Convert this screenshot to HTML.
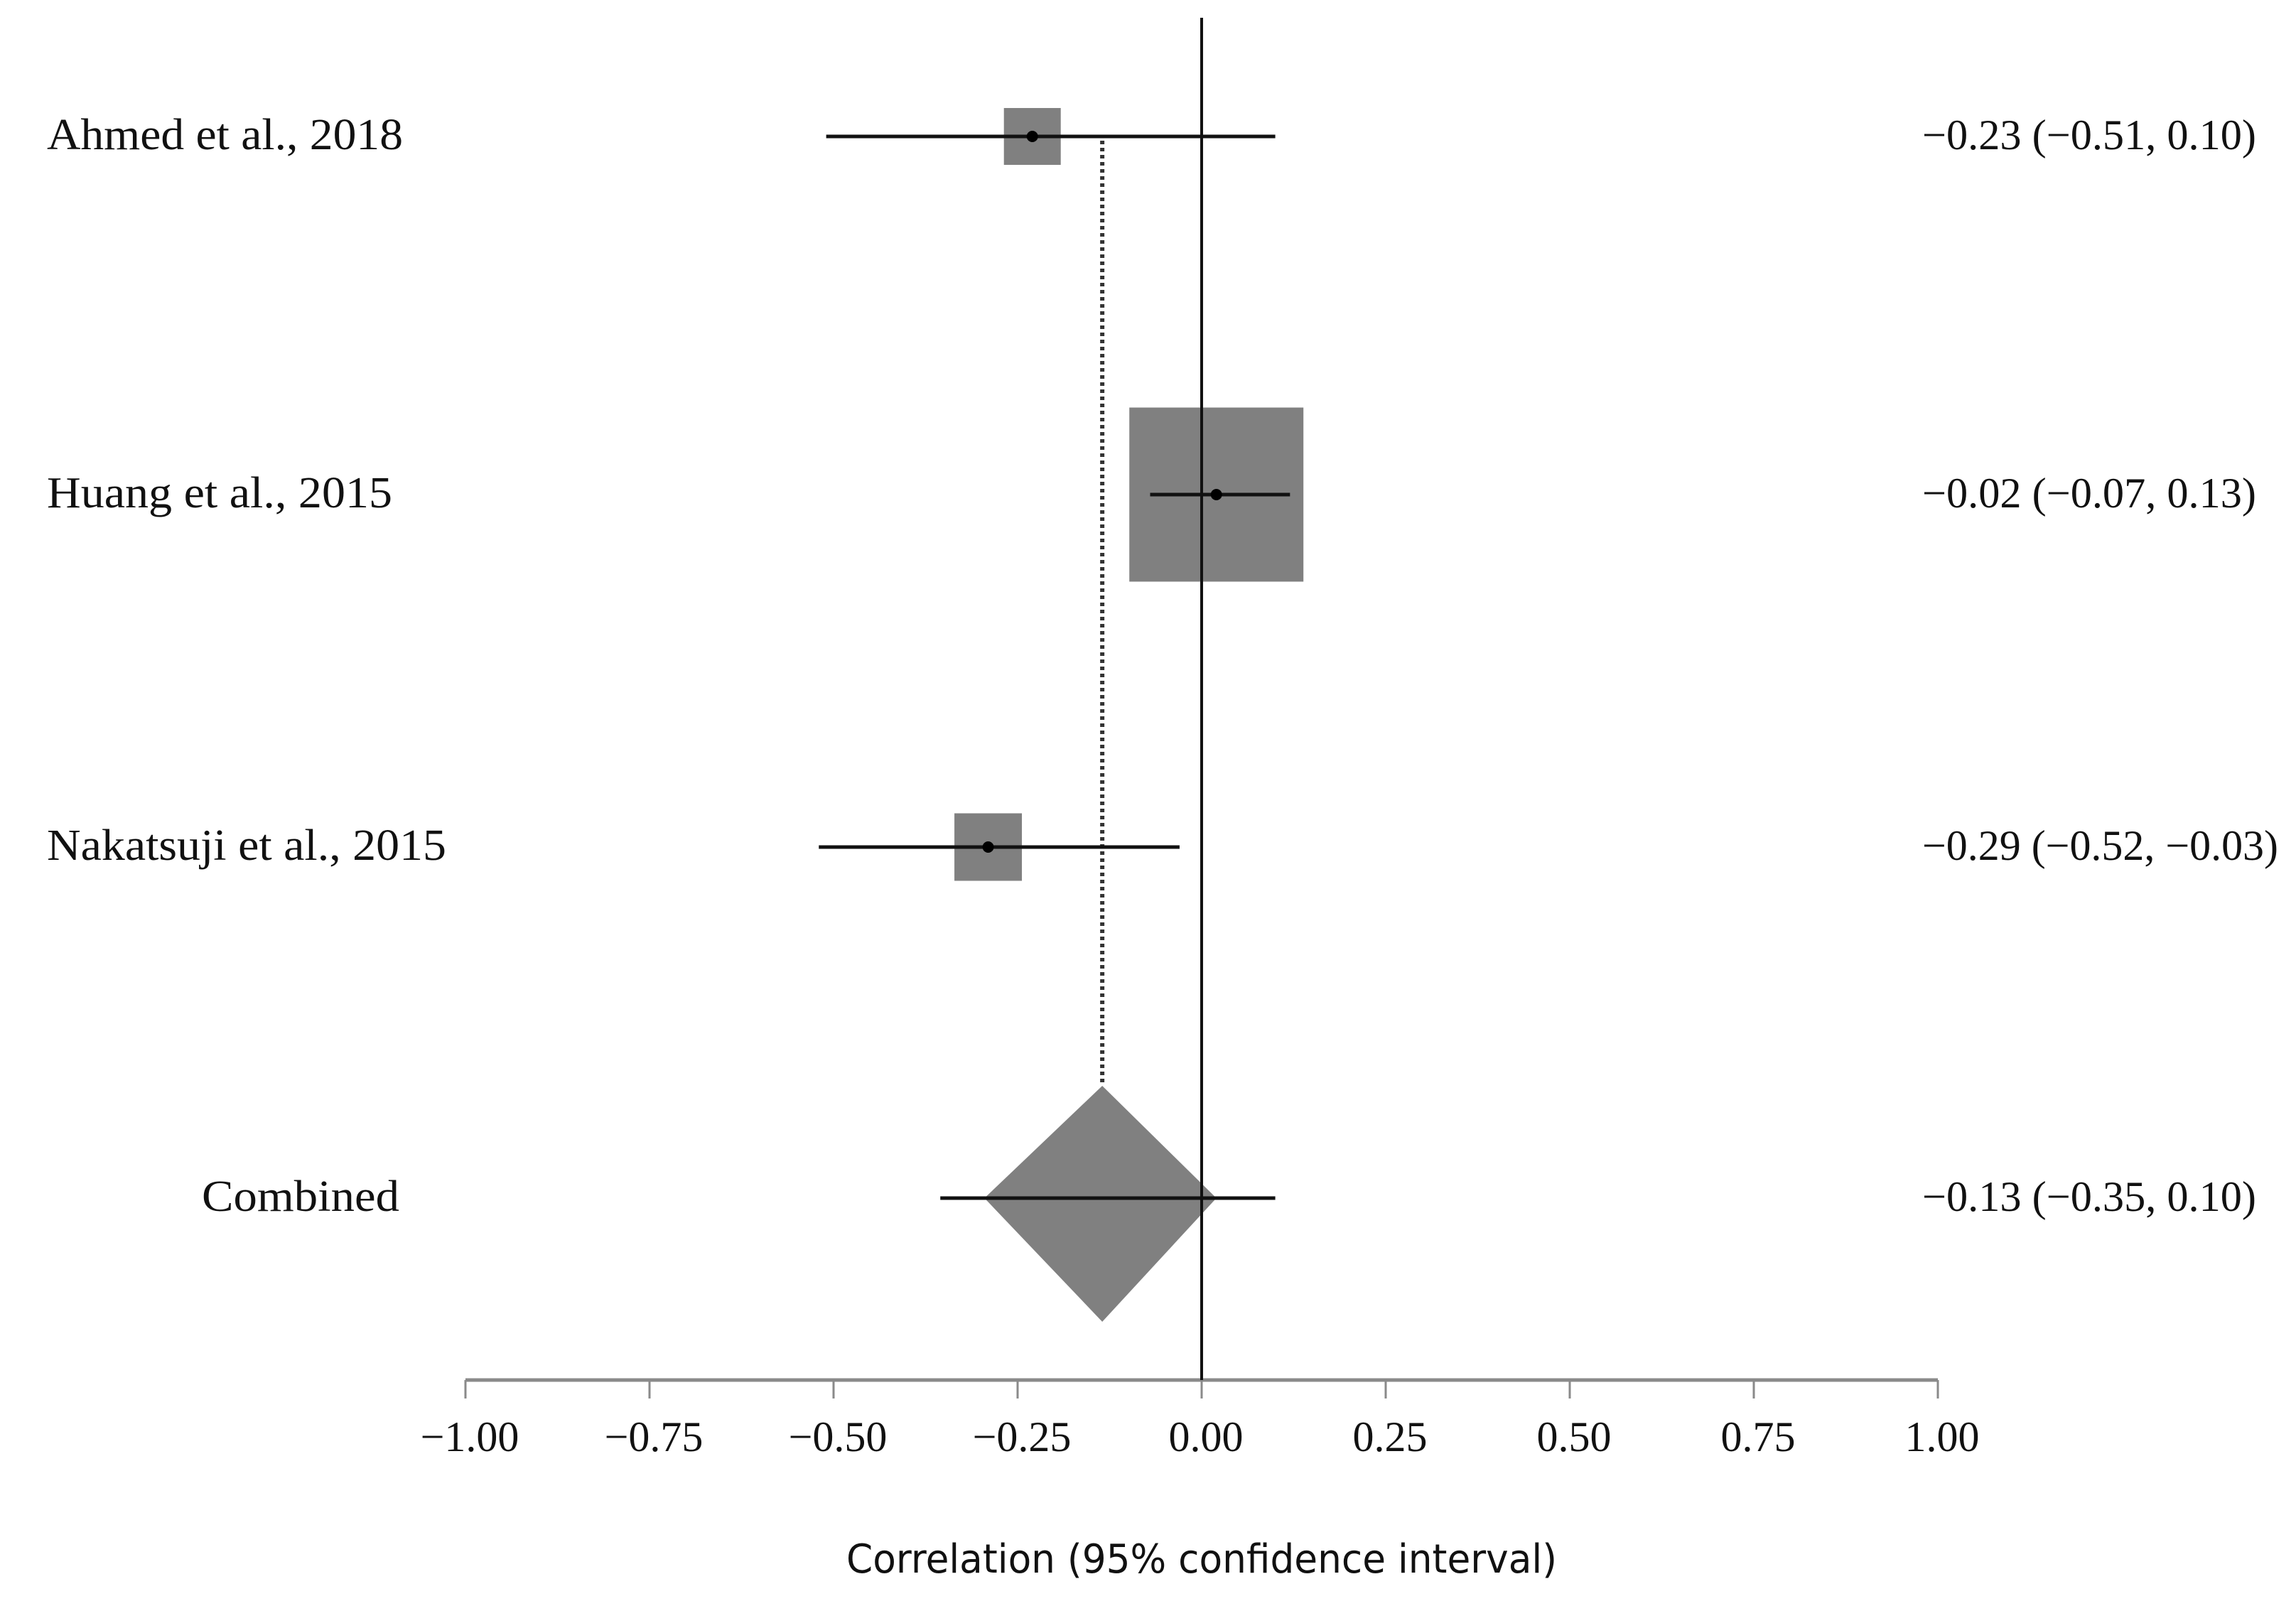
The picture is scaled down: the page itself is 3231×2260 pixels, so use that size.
<!DOCTYPE html>
<html><head><meta charset="utf-8"><style>
html,body{margin:0;padding:0;background:#fff}
svg{display:block}
</style></head>
<body>
<svg id="chart" width="3231" height="2260" viewBox="0 0 3231 2260" xmlns="http://www.w3.org/2000/svg">
<rect x="0" y="0" width="3231" height="2260" fill="#fff"/>
<g id="plot"></g>
</svg>
<script>
const studies = ["Ahmed et al., 2018", "Huang et al., 2015", "Nakatsuji et al., 2015"];
const estimates = [-0.23, 0.02, -0.29];
const lowers = [-0.51, -0.07, -0.52];
const uppers = [0.10, 0.12, -0.03];
const weights = [80, 245, 95];
const estLabels = ["\u22120.23 (\u22120.51, 0.10)", "\u22120.02 (\u22120.07, 0.13)", "\u22120.29 (\u22120.52, \u22120.03)"];
const combinedName = "Combined";
const combinedEst = -0.135;
const combinedLow = -0.355;
const combinedHigh = 0.10;
const combinedDiamondLow = -0.295;
const combinedDiamondHigh = 0.02;
const combinedLabel = "\u22120.13 (\u22120.35, 0.10)";
const ticks = [-1, -0.75, -0.5, -0.25, 0, 0.25, 0.5, 0.75, 1];
const tickLabels = ["\u22121.00", "\u22120.75", "\u22120.50", "\u22120.25", "0.00", "0.25", "0.50", "0.75", "1.00"];

const NS = "http://www.w3.org/2000/svg";
const g = document.getElementById("plot");
function x(v){ return 1691 + v * 1036; }
const rowY = [192, 696, 1192];
const combY = 1686;
const labelW = [501, 486, 562];
const estW = [470, 470, 501];
function mk(tag, attrs){ const e = document.createElementNS(NS, tag); for (const k in attrs) e.setAttribute(k, attrs[k]); g.appendChild(e); return e; }
const serif = '"Liberation Serif", serif';

// axis
const axis = mk("line", {x1: x(-1), x2: x(1), y1: 1942, y2: 1942, stroke: "#8a8a8a", "stroke-width": 5});


ticks.forEach((t, i) => {
  const tl = mk("line", {x1: x(t), x2: x(t), y1: 1942, y2: 1968, stroke: "#8a8a8a", "stroke-width": 3});
  
  
  const tx = mk("text", {x: x(t) + 6, y: 2042, "text-anchor": "middle", "font-family": serif, "font-size": 60, fill: "#111"});
  tx.textContent = tickLabels[i];
  
  
});
const title = mk("text", {x: 1691, y: 2213, "text-anchor": "middle", "font-family": '"DejaVu Sans", "Liberation Sans", sans-serif', "font-size": 56, fill: "#111", textLength: 1000, lengthAdjust: "spacingAndGlyphs"});
title.textContent = "Correlation (95% confidence interval)";



// dotted combined line
const dl = mk("line", {x1: x(combinedEst), x2: x(combinedEst), y1: rowY[0] + 6, y2: 1528, stroke: "#333", "stroke-width": 6, "stroke-dasharray": "5 5"});



// boxes
studies.forEach((s, i) => {
  const w = weights[i];
  const b = mk("rect", {x: x(estimates[i]) - w/2, y: rowY[i] - w/2, width: w, height: w, fill: "#808080"});
  
  
});

// diamond
const dm = mk("polygon", {points: `${x(combinedDiamondLow)},${combY} ${x(combinedEst)},1528 ${x(combinedDiamondHigh)},${combY} ${x(combinedEst)},1860`, fill: "#808080"});



// zero line
const zl = mk("line", {x1: x(0), x2: x(0), y1: 25, y2: 1942, stroke: "#111", "stroke-width": 4});



// CI lines and points
studies.forEach((s, i) => {
  const l = mk("line", {x1: x(lowers[i]), x2: x(uppers[i]), y1: rowY[i], y2: rowY[i], stroke: "#111", "stroke-width": 5});
  
  
  const c = mk("circle", {cx: x(estimates[i]), cy: rowY[i], r: 8, fill: "#000"});
  
  
  const lt = mk("text", {x: 66, y: rowY[i] + 18, "font-family": serif, "font-size": 62, fill: "#111", textLength: labelW[i], lengthAdjust: "spacingAndGlyphs"});
  lt.textContent = s;
  
  
  const rt = mk("text", {x: 2705, y: rowY[i] + 18, "font-family": serif, "font-size": 60, fill: "#111", textLength: estW[i], lengthAdjust: "spacingAndGlyphs"});
  rt.textContent = estLabels[i];
  
  
});
const cl = mk("line", {x1: x(combinedLow), x2: x(combinedHigh), y1: combY, y2: combY, stroke: "#111", "stroke-width": 5});


const ct = mk("text", {x: 284, y: combY + 18, "font-family": serif, "font-size": 62, fill: "#111", textLength: 278, lengthAdjust: "spacingAndGlyphs"});
ct.textContent = combinedName;


const crt = mk("text", {x: 2705, y: combY + 18, "font-family": serif, "font-size": 60, fill: "#111", textLength: 470, lengthAdjust: "spacingAndGlyphs"});
crt.textContent = combinedLabel;


</script>
</body></html>
